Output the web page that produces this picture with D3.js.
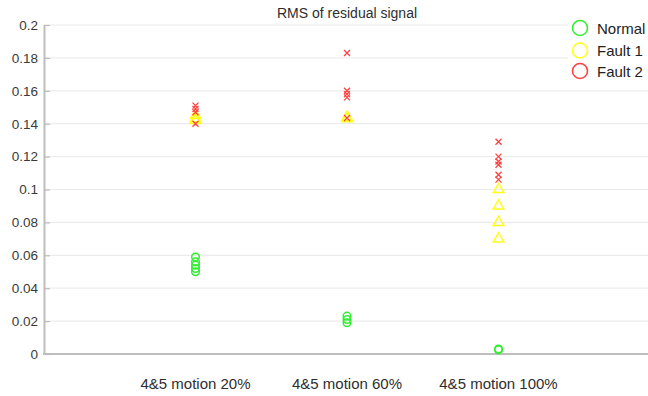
<!DOCTYPE html>
<html>
<head>
<meta charset="utf-8">
<script src="https://cdn.jsdelivr.net/npm/d3@7"></script>
<style>
  html, body { margin: 0; padding: 0; background: #fff; }
  svg { display: block; font-family: Arial, "Liberation Sans", sans-serif; }
</style>
</head>
<body>
<svg id="chart" width="648" height="396"></svg>
<script>
// Test conditions along the x axis
const categories = ["4&5 motion 20%", "4&5 motion 60%", "4&5 motion 100%"];

// RMS of the residual signal per condition, one array per case
const normalValues = [
  [0.059, 0.056, 0.054, 0.052, 0.050],
  [0.023, 0.021, 0.019],
  [0.003, 0.0025]
];
const fault1Values = [
  [0.145, 0.143, 0.142],
  [0.144, 0.143],
  [0.100, 0.090, 0.080, 0.070]
];
const fault2Values = [
  [0.151, 0.149, 0.147, 0.140],
  [0.183, 0.160, 0.158, 0.156, 0.1435],
  [0.129, 0.120, 0.117, 0.115, 0.109, 0.106]
];

const yTicks = [0, 0.02, 0.04, 0.06, 0.08, 0.1, 0.12, 0.14, 0.16, 0.18, 0.2];
const title = "RMS of residual signal";
const legendLabels = ["Normal", "Fault 1", "Fault 2"];

const colors = { normal: "#33ee33", fault1: "#ffff1a", fault2: "#ff4040" };

const svg = d3.select("#chart");
const plotLeft = 44, plotTop = 25, plotBottom = 354, plotRight = 650;

// Categories sit at 1, 2, 3 on a 0..4 axis
const x = d3.scaleLinear().domain([0, 4]).range([plotLeft, plotRight]);
const y = d3.scaleLinear().domain([0, 0.2]).range([plotBottom, plotTop]);

// Horizontal gridlines
svg.append("g")
  .selectAll("line")
  .data(yTicks.filter(t => t > 0))
  .join("line")
  .attr("x1", plotLeft).attr("x2", plotRight)
  .attr("y1", d => y(d)).attr("y2", d => y(d))
  .attr("stroke", "#ececec").attr("stroke-width", 1.2);

// Y axis
const yAxis = svg.append("g")
  .attr("transform", `translate(${plotLeft},0)`)
  .call(d3.axisLeft(y).tickValues(yTicks).tickSizeInner(-6).tickSizeOuter(0).tickPadding(6)
    .tickFormat(d => d3.format("~g")(d)));
yAxis.select(".domain").attr("stroke", "#bdbdbd").attr("stroke-width", 2);
yAxis.selectAll(".tick line").attr("stroke", "#bdbdbd").attr("stroke-width", 1.2);
yAxis.selectAll(".tick text").attr("fill", "#3a3a3a").attr("font-size", 13.5);

// X axis line and category labels
svg.append("line")
  .attr("x1", plotLeft - 1).attr("x2", plotRight)
  .attr("y1", plotBottom).attr("y2", plotBottom)
  .attr("stroke", "#bdbdbd").attr("stroke-width", 2);

svg.append("g")
  .selectAll("text")
  .data(categories)
  .join("text")
  .attr("x", (d, i) => x(i + 1))
  .attr("y", 389)
  .attr("text-anchor", "middle")
  .attr("fill", "#2e2e2e")
  .attr("font-size", 15)
  .text(d => d);

// Title
svg.append("text")
  .attr("x", 347).attr("y", 18)
  .attr("text-anchor", "middle")
  .attr("fill", "#2e2e2e")
  .attr("font-size", 14)
  .text(title);

function flatten(series) {
  return series.flatMap((vals, i) => vals.map(v => ({ cat: i + 1, v })));
}

// Normal: open circles
svg.append("g")
  .selectAll("circle")
  .data(flatten(normalValues))
  .join("circle")
  .attr("cx", d => x(d.cat)).attr("cy", d => y(d.v))
  .attr("r", 3.8)
  .attr("fill", "none").attr("stroke", colors.normal).attr("stroke-width", 1.5);

// Fault 1: open triangles
const tri = d3.symbol().type(d3.symbolTriangle).size(48);
svg.append("g")
  .selectAll("path")
  .data(flatten(fault1Values))
  .join("path")
  .attr("transform", d => `translate(${x(d.cat)},${y(d.v)})`)
  .attr("d", tri)
  .attr("fill", "none").attr("stroke", colors.fault1).attr("stroke-width", 1.5);

// Fault 2: crosses
svg.append("g")
  .selectAll("path")
  .data(flatten(fault2Values))
  .join("path")
  .attr("transform", d => `translate(${x(d.cat)},${y(d.v)})`)
  .attr("d", "M-3,-3L3,3M-3,3L3,-3")
  .attr("fill", "none").attr("stroke", colors.fault2).attr("stroke-width", 1.3);

// Legend
const legend = svg.append("g");
legend.append("rect")
  .attr("x", 568).attr("y", 14).attr("width", 80).attr("height", 70)
  .attr("fill", "#fff");
const legendColors = [colors.normal, colors.fault1, colors.fault2];
const legendY = [28, 50.5, 71];
legend.selectAll("circle")
  .data(legendLabels)
  .join("circle")
  .attr("cx", 580).attr("cy", (d, i) => legendY[i])
  .attr("r", 7.5)
  .attr("fill", "none")
  .attr("stroke", (d, i) => legendColors[i])
  .attr("stroke-width", 1.6);
legend.selectAll("text")
  .data(legendLabels)
  .join("text")
  .attr("x", 597).attr("y", (d, i) => legendY[i] + 5.5)
  .attr("fill", "#222")
  .attr("font-size", 15)
  .text(d => d);
</script>
</body>
</html>
